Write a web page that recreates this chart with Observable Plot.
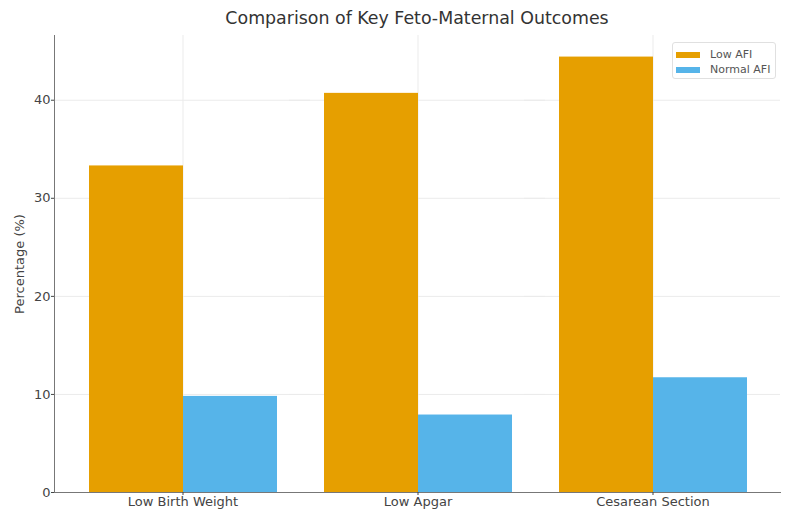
<!DOCTYPE html>
<html><head><meta charset="utf-8">
<script src="https://cdn.jsdelivr.net/npm/d3@7"></script>
<script src="https://cdn.jsdelivr.net/npm/@observablehq/plot@0.6"></script>
<style>
body{margin:0;background:#fff;font-family:"DejaVu Sans",sans-serif;}
#wrap{position:relative;width:786px;height:510px;}
#title{position:absolute;left:54px;width:726px;top:8px;text-align:center;font-size:17.4px;color:#333;}
#legend{position:absolute;left:672px;top:42px;width:104px;height:37px;padding:4px 0 0 3px;box-sizing:border-box;border:1px solid #e0e0e0;border-radius:3px;background:rgba(255,255,255,0.85);font-size:11px;color:#555;}
#legend div{display:flex;align-items:center;height:15px;}
#legend span.sw{display:inline-block;width:24px;height:6px;margin-right:10px;}
</style></head>
<body><div id="wrap"><div id="title">Comparison of Key Feto-Maternal Outcomes</div><div id="legend"></div></div>
<script>
const categories = ["Low Birth Weight", "Low Apgar", "Cesarean Section"];
const series = ["Low AFI", "Normal AFI"];
const lowAFI = [33.3, 40.7, 44.4];
const normalAFI = [9.8, 7.9, 11.7];
const colors = ["#E69F00", "#56B4E9"];
const yTicks = [0, 10, 20, 30, 40];

const data = [];
categories.forEach((c, i) => {
  data.push({category: c, series: series[0], value: lowAFI[i]});
  data.push({category: c, series: series[1], value: normalAFI[i]});
});

const chart = Plot.plot({
  width: 786, height: 510,
  marginLeft: 54, marginRight: 6, marginTop: 35, marginBottom: 18,
  style: {fontFamily: "DejaVu Sans, sans-serif", fontSize: "13px", color: "#444", background: "transparent"},
  fx: {domain: categories, paddingInner: 0, paddingOuter: 0.04, label: null},
  x: {domain: series, paddingInner: 0, paddingOuter: 0.25, axis: null},
  y: {domain: [0, 46.6], label: "Percentage (%)"},
  color: {domain: series, range: colors},
  marks: [
    Plot.gridY(yTicks, {stroke: "#ebebeb", strokeOpacity: 1, insetLeft: -11, insetRight: -10}),
    Plot.gridFx({stroke: "#ebebeb", strokeOpacity: 1}),
    Plot.barY(data, {fx: "category", x: "series", y: "value", fill: "series"}),
    Plot.frame({anchor: "bottom", stroke: "#777", facet: "super", insetLeft: -11, insetRight: -10}),
    Plot.frame({anchor: "left", stroke: "#777", facet: "super", insetLeft: -11}),
    Plot.axisY(yTicks, {dx: -11, tickSize: 3, tickPadding: 1, label: "Percentage (%)", labelAnchor: "center", labelArrow: "none"}),
    Plot.axisFx({anchor: "bottom", tickSize: 3, tickPadding: 1, label: null})
  ]
});
const wrap = document.getElementById("wrap");
chart.style.position = "absolute"; chart.style.left = "0"; chart.style.top = "0";
wrap.insertBefore(chart, wrap.firstChild);
const lg = document.getElementById("legend");
series.forEach((s, i) => {
  const d = document.createElement("div");
  d.innerHTML = `<span class="sw" style="background:${colors[i]}"></span>${s}`;
  lg.appendChild(d);
});
</script></body></html>
